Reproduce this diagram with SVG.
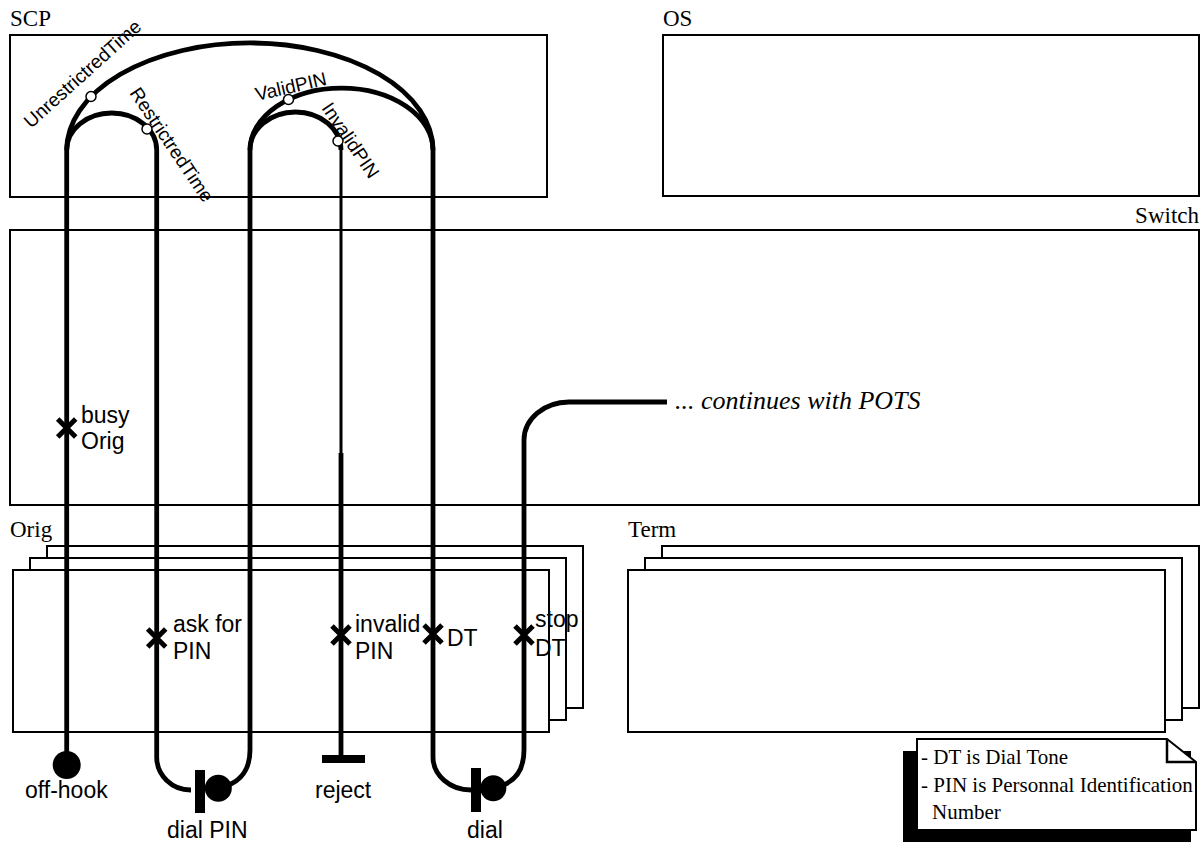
<svg xmlns="http://www.w3.org/2000/svg" width="1203" height="843" viewBox="0 0 1203 843">
<style>
.box{fill:#fff;stroke:#000;stroke-width:2}
.lbl{font-family:"Liberation Serif","Times New Roman",serif;font-size:23px;fill:#000}
.sans{font-family:"Liberation Sans",Arial,sans-serif;font-size:23px;fill:#000}
.rot{font-family:"Liberation Sans",Arial,sans-serif;font-size:19px;fill:#000}
.path{fill:none;stroke:#000;stroke-width:4.8}
.thin{fill:none;stroke:#000;stroke-width:3}
.cond{fill:#fff;stroke:#000;stroke-width:1.5}
.x{fill:none;stroke:#000;stroke-width:5}
.note{font-family:"Liberation Serif","Times New Roman",serif;font-size:21px;fill:#000}
</style>
<rect width="1203" height="843" fill="#fff"/>
<g id="scp">
  <text class="lbl" x="10" y="26">SCP</text>
  <rect class="box" x="10" y="35" width="537" height="162"/>
</g>
<g id="os">
  <text class="lbl" x="663" y="26">OS</text>
  <rect class="box" x="663" y="35" width="536" height="161"/>
</g>
<g id="switch">
  <text class="lbl" x="1199" y="223" text-anchor="end">Switch</text>
  <rect class="box" x="10" y="230" width="1189" height="275"/>
</g>
<g id="orig">
  <text class="lbl" x="10" y="537">Orig</text>
  <rect class="box" x="47" y="546" width="536" height="162"/>
  <rect class="box" x="30" y="558" width="536" height="162"/>
  <rect class="box" x="13" y="570" width="536" height="162"/>
</g>
<g id="term">
  <text class="lbl" x="628" y="537">Term</text>
  <rect class="box" x="662" y="546" width="537" height="162"/>
  <rect class="box" x="645" y="558" width="537" height="162"/>
  <rect class="box" x="628" y="570" width="537" height="162"/>
</g>
<g id="note">
  <rect x="903" y="751" width="288" height="91" fill="#000"/>
  <path d="M917,739 L1167,739 L1196,762 L1196,830 L917,830 Z" fill="#fff" stroke="#000" stroke-width="2"/>
  <path d="M1167,739 L1167,762 L1196,762" fill="none" stroke="#000" stroke-width="2.5"/>
  <text class="note" x="921" y="764">- DT is Dial Tone</text>
  <text class="note" x="921" y="792">- PIN is Personnal Identification</text>
  <text class="note" x="932" y="819">Number</text>
</g>
<g id="connectors">
  <path class="path" d="M66.7,765 L66.7,150 A183,107 0 0 1 433,150 L433,757 A38,33 0 0 0 471,790"/>
  <path class="path" d="M66.7,150 A45,37 0 0 1 156.7,150 L156.7,757 A34,33 0 0 0 191,790"/>
  <path class="path" d="M218,788 C235,785 250,775 250,750 L250,150 A91.5,62 0 0 1 433,150"/>
  <path class="path" d="M250,150 A45.5,38 0 0 1 341,150"/>
  <path class="thin" d="M341,149 L341,455"/>
  <path class="path" d="M341,453 L341,757"/>
  <path class="path" d="M493,788 C510,785 524,775 524,750 L524,440 A45,38 0 0 1 569,402 L667,402"/>
  <text x="675" y="409" font-family="Liberation Serif,'Times New Roman',serif" font-style="italic" font-size="26">... continues with POTS</text>
</g>
<g id="conditions">
  <circle class="cond" cx="91" cy="96.5" r="5"/>
  <circle class="cond" cx="147" cy="129" r="5"/>
  <circle class="cond" cx="288.5" cy="99.5" r="5"/>
  <circle class="cond" cx="338" cy="141" r="5"/>
  <text class="rot" transform="translate(31,129) rotate(-42)">UnrestrictredTime</text>
  <text class="rot" transform="translate(129,93) rotate(56)">RestrictredTime</text>
  <text class="rot" transform="translate(257,101) rotate(-13)">ValidPIN</text>
  <text class="rot" transform="translate(321,108) rotate(56)">InvalidPIN</text>
</g>
<g id="events">
  <path class="x" d="M57.7,419 L75.7,437 M57.7,437 L75.7,419"/>
  <text class="sans" x="81" y="423">busy</text>
  <text class="sans" x="81" y="449">Orig</text>
  <path class="x" d="M147.7,629 L165.7,647 M147.7,647 L165.7,629"/>
  <text class="sans" x="173" y="632">ask for</text>
  <text class="sans" x="173" y="659">PIN</text>
  <path class="x" d="M332,626 L350,644 M332,644 L350,626"/>
  <text class="sans" x="355" y="632">invalid</text>
  <text class="sans" x="355" y="659">PIN</text>
  <path class="x" d="M424,625 L442,643 M424,643 L442,625"/>
  <text class="sans" x="447" y="646">DT</text>
  <path class="x" d="M515,626 L533,644 M515,644 L533,626"/>
  <text class="sans" x="535" y="627">stop</text>
  <text class="sans" x="535" y="656">DT</text>
</g>
<g id="terminals">
  <circle cx="66.7" cy="765" r="14"/>
  <text class="sans" x="25" y="798">off-hook</text>
  <rect x="195" y="770" width="10" height="43"/>
  <circle cx="218.3" cy="788.3" r="13.5"/>
  <text class="sans" x="167" y="838">dial PIN</text>
  <rect x="322" y="755" width="43" height="8"/>
  <text class="sans" x="315" y="798">reject</text>
  <rect x="471" y="768" width="10" height="44"/>
  <circle cx="493.3" cy="788.3" r="13"/>
  <text class="sans" x="467" y="838">dial</text>
</g>
</svg>
